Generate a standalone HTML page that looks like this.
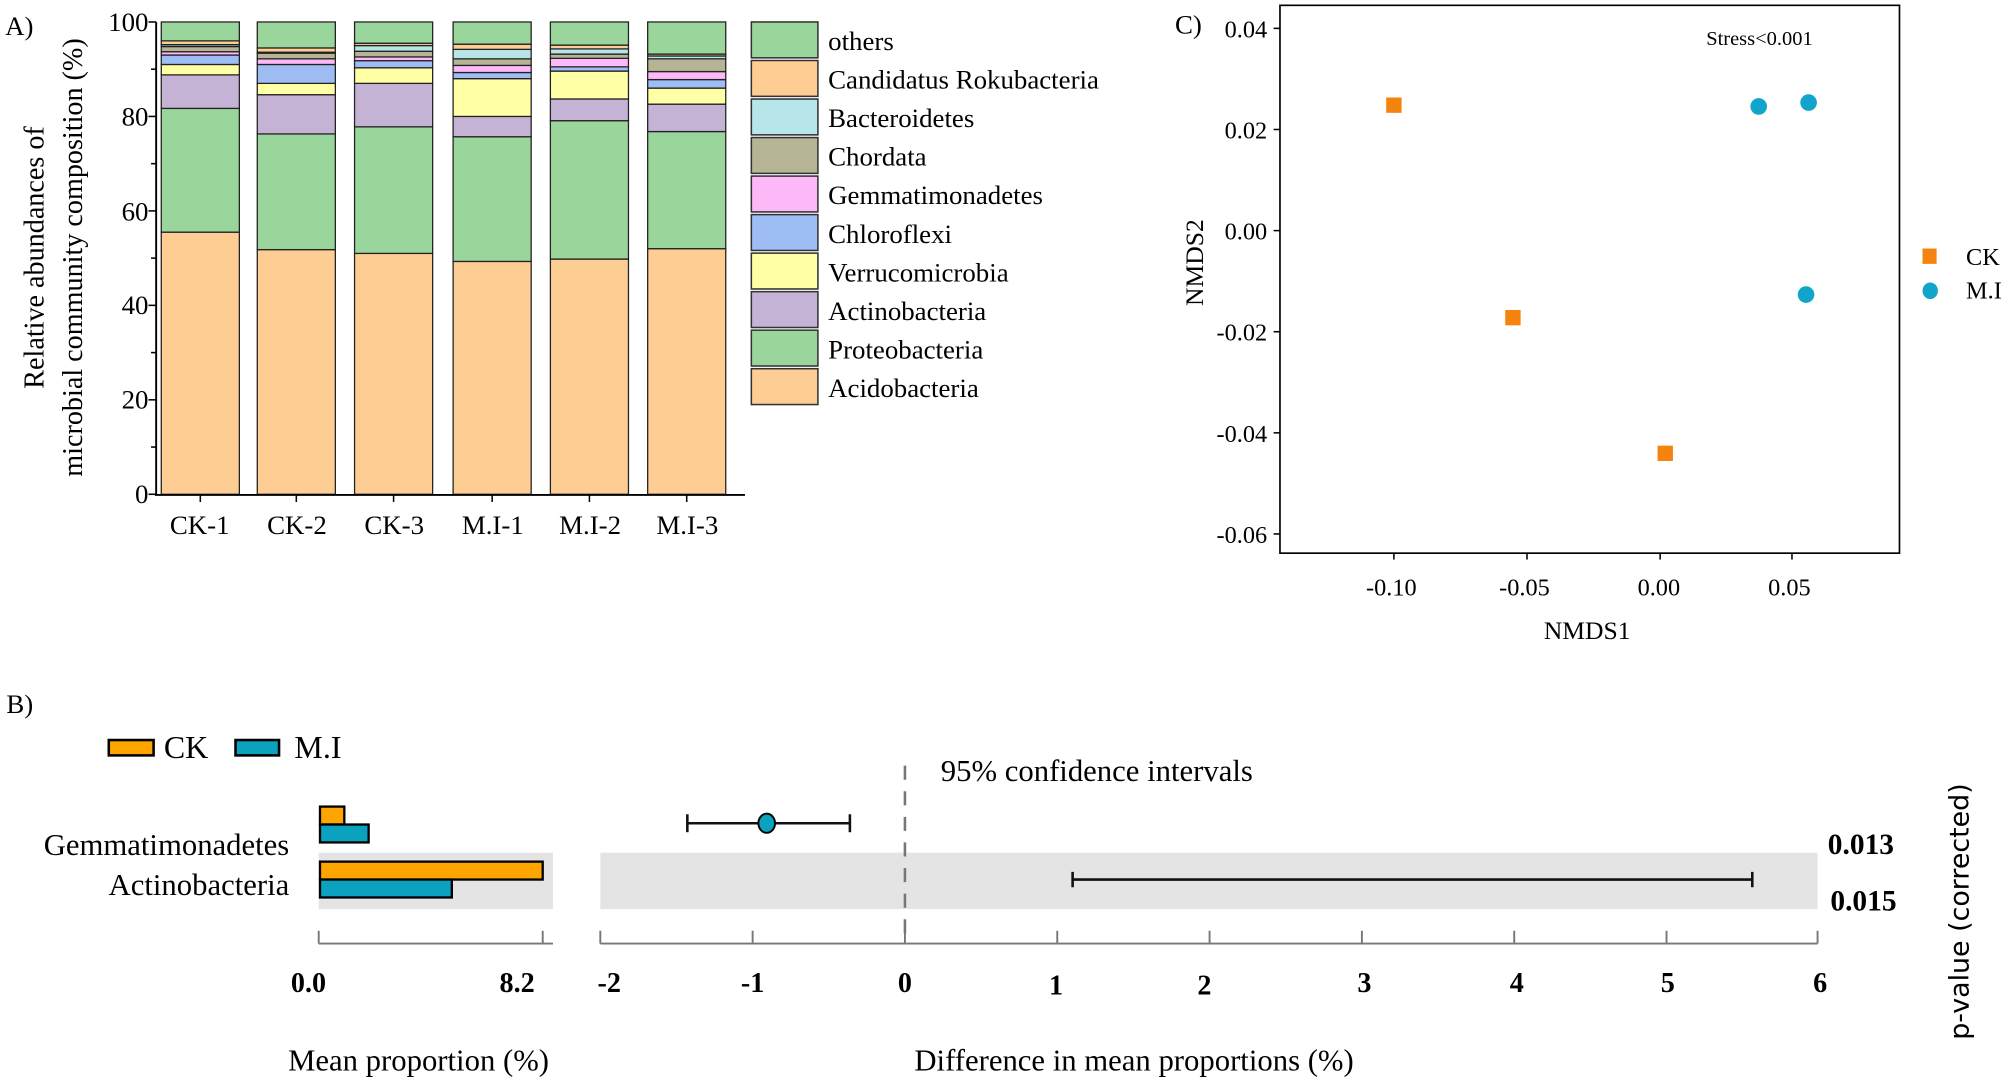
<!DOCTYPE html>
<html><head><meta charset="utf-8"><style>
html,body{margin:0;padding:0;background:#fff;}
svg, svg text{font-family:"Liberation Serif","Times New Roman","DejaVu Serif",serif;}
</style></head><body>
<svg id="s" width="2007" height="1082" viewBox="0 0 1568 845" xmlns="http://www.w3.org/2000/svg" font-family="Liberation Serif, serif">
<rect width="1568" height="845" fill="#fff"/>
<!-- Panel A -->
<text x="4" y="27" font-size="21">A)</text>
<g id="bars"></g>
<line x1="122" y1="17" x2="122" y2="387" stroke="#000" stroke-width="1.5"/>
<line x1="121" y1="386.5" x2="582" y2="386.5" stroke="#000" stroke-width="1.5"/>
<g font-size="21" text-anchor="end">
<text x="116" y="24">100</text><text x="116" y="98">80</text><text x="116" y="172">60</text>
<text x="116" y="245">40</text><text x="116" y="319">20</text><text x="116" y="393">0</text>
</g>
<g id="yt" stroke="#000" stroke-width="1.2"></g>
<g font-size="21" text-anchor="middle">
<text x="156" y="417">CK-1</text><text x="232" y="417">CK-2</text><text x="308" y="417">CK-3</text>
<text x="385" y="417">M.I-1</text><text x="461" y="417">M.I-2</text><text x="537" y="417">M.I-3</text>
</g>
<text transform="translate(34,201) rotate(-90)" font-size="22" text-anchor="middle">Relative abundances of</text>
<text transform="translate(64,201) rotate(-90)" font-size="22" text-anchor="middle">microbial community composition (%)</text>
<g id="leg"></g>
<!-- Panel C -->
<text x="918" y="26" font-size="21">C)</text>
<rect x="1000" y="4" width="484" height="428" fill="none" stroke="#000" stroke-width="1.3"/>
<g font-size="19" text-anchor="end">
<text x="990" y="29">0.04</text><text x="990" y="108">0.02</text><text x="990" y="187">0.00</text>
<text x="990" y="266">-0.02</text><text x="990" y="345">-0.04</text><text x="990" y="424">-0.06</text>
</g>
<g stroke="#000" stroke-width="1.2">
<line x1="995" y1="22" x2="1000" y2="22"/><line x1="995" y1="101" x2="1000" y2="101"/><line x1="995" y1="180" x2="1000" y2="180"/>
<line x1="995" y1="259" x2="1000" y2="259"/><line x1="995" y1="338" x2="1000" y2="338"/><line x1="995" y1="417" x2="1000" y2="417"/>
<line x1="1089" y1="432" x2="1089" y2="437"/><line x1="1193" y1="432" x2="1193" y2="437"/><line x1="1297" y1="432" x2="1297" y2="437"/><line x1="1400" y1="432" x2="1400" y2="437"/>
</g>
<g font-size="19" text-anchor="middle">
<text x="1087" y="465">-0.10</text><text x="1191" y="465">-0.05</text><text x="1296" y="465">0.00</text><text x="1398" y="465">0.05</text>
</g>
<text x="1240" y="499" font-size="20" text-anchor="middle">NMDS1</text>
<text transform="translate(940,205) rotate(-90)" font-size="20" text-anchor="middle">NMDS2</text>
<text x="1333" y="35" font-size="16">Stress&lt;0.001</text>
<g fill="#F5840F">
<rect x="1083" y="76" width="12" height="12"/><rect x="1176" y="242" width="12" height="12"/><rect x="1295" y="348" width="12" height="12"/>
<rect x="1502" y="194" width="11" height="12"/>
</g>
<g fill="#11A5CC">
<ellipse cx="1374" cy="83" rx="6.5" ry="6.5"/><ellipse cx="1413" cy="80" rx="6.5" ry="6.5"/><ellipse cx="1411" cy="230" rx="6.5" ry="6.5"/>
<ellipse cx="1508" cy="227" rx="6" ry="6.5"/>
</g>
<text x="1536" y="207" font-size="19">CK</text><text x="1536" y="233" font-size="19">M.I</text>
<!-- Panel B -->
<text x="5" y="557" font-size="21">B)</text>
<rect x="85" y="578" width="35" height="12" fill="#FFA500" stroke="#000" stroke-width="2"/>
<text x="128" y="592" font-size="25">CK</text>
<rect x="184" y="578" width="34" height="12" fill="#0AA2BF" stroke="#000" stroke-width="2"/>
<text x="230" y="592" font-size="25">M.I</text>
<rect x="249" y="666" width="183" height="44" fill="#e4e4e4"/>
<rect x="469" y="666" width="951" height="44" fill="#e4e4e4"/>
<rect x="250" y="630" width="19" height="14" fill="#FFA500" stroke="#000" stroke-width="1.8"/>
<rect x="250" y="644" width="38" height="14" fill="#0AA2BF" stroke="#000" stroke-width="1.8"/>
<rect x="250" y="673" width="174" height="14" fill="#FFA500" stroke="#000" stroke-width="1.8"/>
<rect x="250" y="687" width="103" height="14" fill="#0AA2BF" stroke="#000" stroke-width="1.8"/>
<g font-size="24" text-anchor="end">
<text x="226" y="668">Gemmatimonadetes</text><text x="226" y="699">Actinobacteria</text>
</g>
<g stroke="#777" stroke-width="1.5">
<line x1="249" y1="737" x2="432" y2="737"/><line x1="249" y1="727" x2="249" y2="737"/><line x1="424" y1="727" x2="424" y2="737"/>
<line x1="469" y1="737" x2="1420" y2="737"/>
<line x1="469" y1="727" x2="469" y2="737"/><line x1="588" y1="727" x2="588" y2="737"/><line x1="707" y1="727" x2="707" y2="737"/>
<line x1="826" y1="727" x2="826" y2="737"/><line x1="945" y1="727" x2="945" y2="737"/><line x1="1064" y1="727" x2="1064" y2="737"/>
<line x1="1183" y1="727" x2="1183" y2="737"/><line x1="1302" y1="727" x2="1302" y2="737"/><line x1="1420" y1="727" x2="1420" y2="737"/>
</g>
<line x1="707" y1="598" x2="707" y2="730" stroke="#777" stroke-width="2" stroke-dasharray="11,9"/>
<g stroke="#111" stroke-width="2">
<line x1="537" y1="643" x2="664" y2="643"/><line x1="537" y1="636" x2="537" y2="650"/><line x1="664" y1="636" x2="664" y2="650"/>
<line x1="838" y1="687" x2="1369" y2="687"/><line x1="838" y1="681" x2="838" y2="693"/><line x1="1369" y1="681" x2="1369" y2="693"/>
</g>
<ellipse cx="599" cy="643" rx="6.5" ry="7.5" fill="#0AA2BF" stroke="#000" stroke-width="1.5"/>
<text x="735" y="610" font-size="24">95% confidence intervals</text>
<g font-size="22" font-weight="bold" text-anchor="middle">
<text x="241" y="775">0.0</text><text x="404" y="775">8.2</text>
<text x="476" y="775">-2</text><text x="588" y="775">-1</text><text x="707" y="775">0</text>
<text x="825" y="777">1</text><text x="941" y="777">2</text><text x="1066" y="775">3</text>
<text x="1185" y="775">4</text><text x="1303" y="775">5</text><text x="1422" y="775">6</text>
</g>
<g font-size="23" font-weight="bold">
<text x="1428" y="667">0.013</text><text x="1430" y="711">0.015</text>
</g>
<text transform="translate(1538,712) rotate(-90)" font-size="21" text-anchor="middle" style="font-family:'DejaVu Sans',sans-serif">p-value (corrected)</text>
<text x="327" y="836" font-size="24" text-anchor="middle">Mean proportion (%)</text>
<text x="886" y="836" font-size="24" text-anchor="middle">Difference in mean proportions (%)</text>
</svg>
<script>
var NS="http://www.w3.org/2000/svg";
function el(p,t,a){var e=document.createElementNS(NS,t);for(var k in a)e.setAttribute(k,a[k]);p.appendChild(e);return e;}
var cols=["#FDCD93","#9AD59B","#C5B3D6","#FFFFA6","#9DBDF4","#FDB8F8","#B5B595","#B6E6EA","#FDCD93","#9AD59B"];
var names=["Acidobacteria","Proteobacteria","Actinobacteria","Verrucomicrobia","Chloroflexi","Gemmatimonadetes","Chordata","Bacteroidetes","Candidatus Rokubacteria","others"];
var data=[[55.5,81.7,88.8,91,93,93.7,94.8,95.2,96,100],
[51.8,76.3,84.6,87,91,92.2,93.4,93.6,94.5,100],
[51,77.8,87,90.3,91.8,92.6,93.8,95,95.5,100],
[49.3,75.7,80,88,89.3,90.8,92.2,94.2,95.3,100],
[49.8,79.1,83.7,89.6,90.5,92.3,93.2,94.3,95.1,100],
[52,76.8,82.6,86,87.8,89.5,92.2,92.8,93.2,100]];
var xs=[126,201,277,354,430,506];
function Y(v){return 386-v*3.69;}
var g=document.getElementById("bars");
data.forEach(function(d,i){var prev=0;d.forEach(function(v,j){
el(g,"rect",{x:xs[i],y:Y(v),width:61,height:Y(prev)-Y(v),fill:cols[j],stroke:"#222","stroke-width":1});prev=v;});});
var yt=document.getElementById("yt");
for(var v=0;v<=100;v+=10){var w=(v%20==0)?6:4;el(yt,"line",{x1:122-w,y1:Y(v),x2:122,y2:Y(v)});}
xs.forEach(function(x){el(yt,"line",{x1:x+30.5,y1:386,x2:x+30.5,y2:392});});
var lg=document.getElementById("leg");
for(var k=0;k<10;k++){var j=9-k;var y=17+k*30.1;
el(lg,"rect",{x:587,y:y,width:52,height:28,fill:cols[j],stroke:"#333","stroke-width":1.2});
var t=el(lg,"text",{x:647,y:y+22,"font-size":21});t.textContent=names[j];}
</script>
</body></html>
